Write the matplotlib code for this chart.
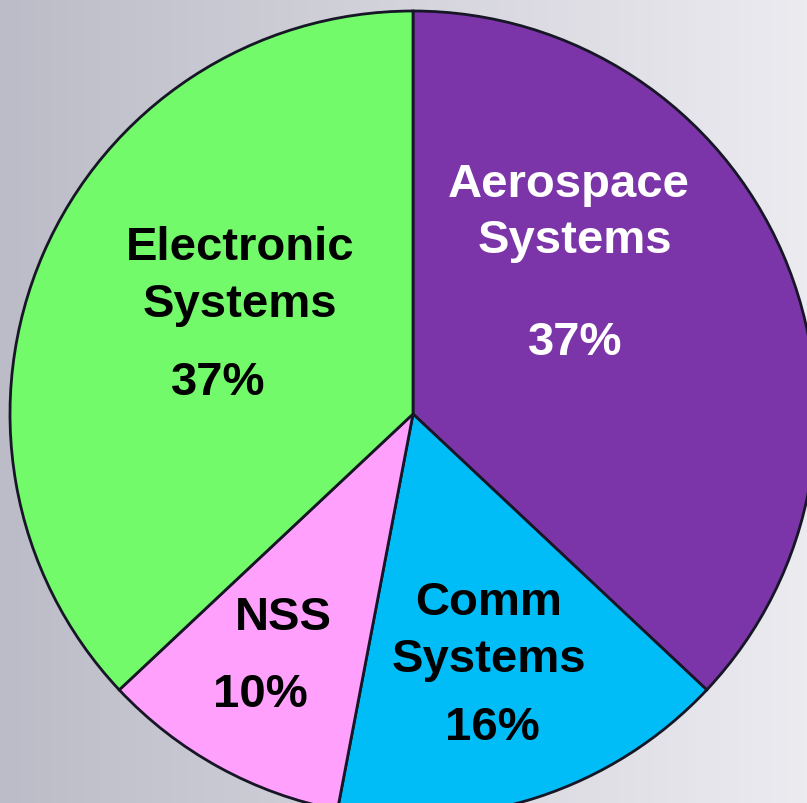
import matplotlib.pyplot as plt
import numpy as np

# data
segments = ["Aerospace Systems", "Comm Systems", "NSS", "Electronic Systems"]
shares = [37, 16, 10, 37]
colors = ["#7B35A8", "#00BDF8", "#FFA0FC", "#72FA6A"]

W, H = 807, 804
fig = plt.figure(figsize=(W / 100, H / 100), dpi=100)

# gray background, lighter to the right
bg = fig.add_axes([0, 0, 1, 1])
grad = np.linspace(0, 1, 256)[None, :]
left = np.array([188, 188, 200]) / 255
right = np.array([236, 235, 240]) / 255
img = left[None, None, :] + (right - left)[None, None, :] * grad[..., None]
bg.imshow(img, aspect="auto", extent=[0, 1, 0, 1])
bg.axis("off")

ax = fig.add_axes([0, 0, 1, 1])
ax.pie(shares, colors=colors, startangle=90, counterclock=False,
       center=(413, H - 415), radius=403, frame=True,
       wedgeprops=dict(edgecolor="#161626", linewidth=2))
ax.set_xlim(0, W)
ax.set_ylim(0, H)
ax.set_aspect("equal")
ax.axis("off")

fs = 34
kw = dict(fontsize=fs, fontweight="bold", family="Liberation Sans",
          ha="center", va="center")

def put(x, y, s, c):
    ax.text(x, H - y - 3, s, color=c, **kw)

put(569, 182, "Aerospace", "white")
put(575, 238, "Systems", "white")
put(575, 340, "37%", "white")

put(240, 245, "Electronic", "black")
put(240, 302, "Systems", "black")
put(218, 380, "37%", "black")

put(489, 600, "Comm", "black")
put(489, 657, "Systems", "black")
put(492, 725, "16%", "black")

put(283, 615, "NSS", "black")
put(260, 692, "10%", "black")

fig.savefig("out.png", dpi=100)
